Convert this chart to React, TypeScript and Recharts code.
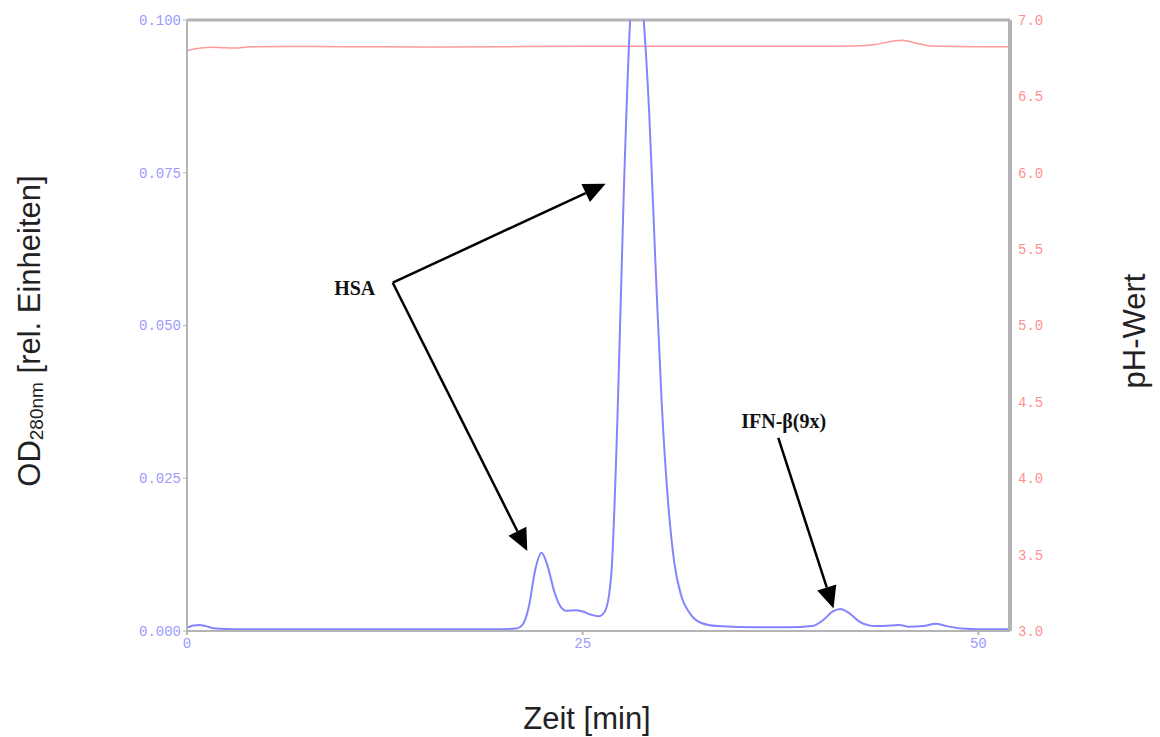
import React from "react";
import {
  ComposedChart,
  Line,
  XAxis,
  YAxis,
  ReferenceLine,
  ReferenceDot,
} from "recharts";

// Elution time [min] and OD280 values
const odTimes = [
  0, 0.4, 0.8, 1.2, 1.8, 3, 6, 10, 14, 18, 20, 20.8, 21.2, 21.6, 22.0, 22.4,
  22.8, 23.2, 23.6, 24.0, 24.5, 25.0, 25.5, 26.0, 26.4, 26.8, 27.2, 27.6, 28.0,
  28.2, 28.4, 28.6, 28.8, 29.2, 29.6, 30.0, 30.4, 30.8, 31.2, 31.8, 32.5, 33.5,
  36, 38, 39.5, 40.2, 40.8, 41.3, 41.8, 42.5, 43.5, 44.5, 45.0, 45.6, 46.5,
  47.3, 48.0, 49, 50, 52,
];
const odValues = [
  0.0005, 0.0009, 0.001, 0.0008, 0.0004, 0.0003, 0.0003, 0.0003, 0.0003,
  0.0003, 0.0003, 0.0004, 0.001, 0.004, 0.01, 0.0128, 0.0105, 0.0065, 0.004,
  0.0033, 0.0034, 0.0032, 0.0027, 0.0024, 0.0032, 0.009, 0.035, 0.072, 0.1,
  0.108, 0.11, 0.108, 0.102, 0.085, 0.06, 0.037, 0.021, 0.011, 0.006, 0.0028,
  0.0013, 0.0008, 0.0006, 0.0006, 0.0008, 0.0018, 0.0032, 0.0036, 0.003,
  0.0015, 0.0008, 0.0009, 0.001, 0.0007, 0.0008, 0.0012, 0.0008, 0.0004,
  0.0003, 0.0003,
];

// pH trace
const phTimes = [
  0, 0.8, 1.5, 2.3, 3, 4, 6, 10, 15, 20, 25, 30, 35, 40, 42, 43.5, 44.5, 45.2,
  46, 47, 50, 52,
];
const phValues = [
  6.8, 6.815, 6.822, 6.818, 6.816, 6.825, 6.827, 6.825, 6.824, 6.825, 6.828,
  6.828, 6.828, 6.828, 6.83, 6.84, 6.86, 6.868, 6.85, 6.83, 6.825, 6.825,
];

const xTicks = [0, 25, 50];
const odTicks = [0, 0.025, 0.05, 0.075, 0.1];
const phTicks = [3.0, 3.5, 4.0, 4.5, 5.0, 5.5, 6.0, 6.5, 7.0];

// Annotations (data coordinates: time, OD)
const hsaLabel = { t: 10.6, od: 0.0561, text: "HSA" };
const hsaVertex = { t: 13.0, od: 0.057 };
const hsaTips = [
  { t: 26.45, od: 0.0732 },
  { t: 21.5, od: 0.0131 },
];
const ifnLabel = { t: 37.7, od: 0.0343, text: "IFN-β(9x)" };
const ifnStart = { t: 37.36, od: 0.0316 };
const ifnTip = { t: 40.85, od: 0.0037 };

const odData = odTimes.map((t, i) => ({ t, od: odValues[i] }));
const phData = phTimes.map((t, i) => ({ t, ph: phValues[i] }));

const ArrowShape = (props: any) => {
  const { x1, y1, x2, y2 } = props;
  const dx = x2 - x1;
  const dy = y2 - y1;
  const len = Math.sqrt(dx * dx + dy * dy);
  const ux = dx / len;
  const uy = dy / len;
  const hl = 22;
  const hw = 10;
  const bx = x2 - ux * hl;
  const by = y2 - uy * hl;
  const pts = `${x2},${y2} ${bx - uy * hw},${by + ux * hw} ${bx + uy * hw},${by - ux * hw}`;
  return (
    <g>
      <line x1={x1} y1={y1} x2={bx} y2={by} stroke="#000" strokeWidth={2.5} />
      <polygon points={pts} fill="#000" />
    </g>
  );
};

const makeTextShape = (text: string) => (props: any) => (
  <text
    x={props.cx}
    y={props.cy}
    textAnchor="middle"
    dominantBaseline="central"
    fontFamily="'Liberation Serif', serif"
    fontWeight="bold"
    fontSize={20}
    fill="#111"
  >
    {text}
  </text>
);

const tickFont = {
  fontFamily: "'Liberation Mono', monospace",
  fontSize: 14,
};

export default function App() {
  return (
    <div
      style={{
        position: "absolute",
        left: 0,
        top: 0,
        width: 1160,
        height: 737,
        background: "#fff",
      }}
    >
      <ComposedChart
        width={1160}
        height={737}
        margin={{ top: 20, right: 0, bottom: 0, left: 0 }}
      >
        <XAxis
          dataKey="t"
          type="number"
          domain={[0, 52]}
          ticks={xTicks}
          allowDuplicatedCategory={false}
          height={106}
          axisLine={{ stroke: "#b4b4b4", strokeWidth: 2 }}
          tickLine={{ stroke: "#b4b4b4", strokeWidth: 2 }}
          tickSize={4}
          tickMargin={3}
          tick={{ ...tickFont, fill: "#9a9aff" }}
        />
        <YAxis
          yAxisId="od"
          orientation="left"
          domain={[0, 0.1]}
          allowDataOverflow
          ticks={odTicks}
          width={187}
          tickFormatter={(v: number) => v.toFixed(3)}
          axisLine={{ stroke: "#b4b4b4", strokeWidth: 2 }}
          tickLine={{ stroke: "#b4b4b4", strokeWidth: 1 }}
          tickSize={4}
          tickMargin={2}
          tick={{ ...tickFont, fill: "#9a9aff" }}
        />
        <YAxis
          yAxisId="ph"
          orientation="right"
          domain={[3, 7]}
          ticks={phTicks}
          width={150}
          tickFormatter={(v: number) => v.toFixed(1)}
          axisLine={{ stroke: "#b4b4b4", strokeWidth: 4 }}
          tickLine={false}
          tickSize={4}
          tickMargin={4}
          tick={{ ...tickFont, fill: "#ff8f8f" }}
        />
        <ReferenceLine
          yAxisId="od"
          y={0.1}
          stroke="#b4b4b4"
          strokeWidth={3}
          ifOverflow="visible"
        />
        <Line
          yAxisId="ph"
          data={phData}
          dataKey="ph"
          type="monotone"
          stroke="#ff9a9a"
          strokeWidth={1.5}
          dot={false}
          isAnimationActive={false}
        />
        <Line
          yAxisId="od"
          data={odData}
          dataKey="od"
          type="monotone"
          stroke="#8484ff"
          strokeWidth={2}
          dot={false}
          isAnimationActive={false}
        />
        {hsaTips.map((tip, i) => (
          <ReferenceLine
            key={`hsa-${i}`}
            yAxisId="od"
            segment={[
              { x: hsaVertex.t, y: hsaVertex.od },
              { x: tip.t, y: tip.od },
            ]}
            ifOverflow="visible"
            shape={ArrowShape}
          />
        ))}
        <ReferenceLine
          yAxisId="od"
          segment={[
            { x: ifnStart.t, y: ifnStart.od },
            { x: ifnTip.t, y: ifnTip.od },
          ]}
          ifOverflow="visible"
          shape={ArrowShape}
        />
        <ReferenceDot
          yAxisId="od"
          x={hsaLabel.t}
          y={hsaLabel.od}
          r={0}
          ifOverflow="visible"
          shape={makeTextShape(hsaLabel.text)}
        />
        <ReferenceDot
          yAxisId="od"
          x={ifnLabel.t}
          y={ifnLabel.od}
          r={0}
          ifOverflow="visible"
          shape={makeTextShape(ifnLabel.text)}
        />
      </ComposedChart>

      {/* Axis titles */}
      <div
        style={{
          position: "absolute",
          left: 30,
          top: 331,
          transform: "translate(-50%, -50%) rotate(-90deg)",
          whiteSpace: "nowrap",
          fontFamily: "'Liberation Sans', Arial, sans-serif",
          fontSize: 31,
          color: "#222",
          lineHeight: 1,
        }}
      >
        OD<sub style={{ fontSize: 19, verticalAlign: "-0.15em" }}>280nm</sub> [rel. Einheiten]
      </div>
      <div
        style={{
          position: "absolute",
          left: 1134,
          top: 331,
          transform: "translate(-50%, -50%) rotate(-90deg)",
          whiteSpace: "nowrap",
          fontFamily: "'Liberation Sans', Arial, sans-serif",
          fontSize: 31,
          color: "#222",
          lineHeight: 1,
        }}
      >
        pH-Wert
      </div>
      <div
        style={{
          position: "absolute",
          left: 587,
          top: 718,
          transform: "translate(-50%, -50%)",
          whiteSpace: "nowrap",
          fontFamily: "'Liberation Sans', Arial, sans-serif",
          fontSize: 31,
          color: "#222",
          lineHeight: 1,
        }}
      >
        Zeit [min]
      </div>
    </div>
  );
}
